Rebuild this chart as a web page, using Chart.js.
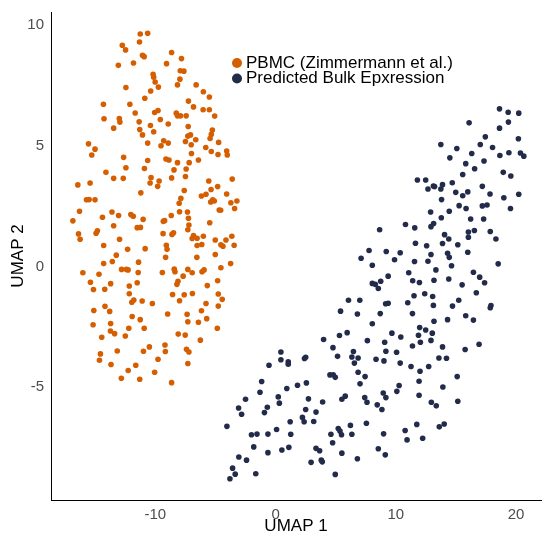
<!DOCTYPE html>
<html>
<head>
<meta charset="utf-8">
<script src="https://cdn.jsdelivr.net/npm/chart.js@4"></script>
<style>
  html, body { margin: 0; padding: 0; background: #fff; }
  #wrap { width: 545px; height: 534px; }
</style>
</head>
<body>
<div id="wrap"><canvas id="umapChart" width="545" height="534"></canvas></div>
<script>
const seriesNames = ['PBMC (Zimmermann et al.)', 'Predicted Bulk Epxression'];
const seriesColors = ['#D55E00', '#232B4A'];
const xTicks = [-10, 0, 10, 20];
const yTicks = [-5, 0, 5, 10];

// UMAP coordinates [UMAP 1, UMAP 2]
const pbmcPoints = [
  [-11.26,9.63],[-10.64,9.66],[-12.75,9.16],[-11.32,9.30],[-12.48,8.97],[-11.07,8.75],[-10.93,8.69],[-13.08,8.33],[-11.82,8.43],[-12.45,7.41],[-10.39,7.27],[-10.88,6.97],[-14.32,6.72],[-12.12,6.72],[-11.68,6.36],[-14.27,6.12],[-13.0,6.13],[-12.95,5.98],[-11.35,5.99],[-13.47,5.73],[-10.41,5.84],[-11.30,5.67],[-11.07,5.45],[-15.56,5.08],[-10.64,5.11],[-15.02,4.86],
  [-8.65,8.86],[-7.83,8.61],[-9.07,8.40],[-7.93,8.11],[-7.63,8.09],[-10.19,7.96],[-10.14,7.84],[-10.02,7.64],[-7.96,7.76],[-8.16,7.52],[-6.61,7.52],[-9.75,7.43],[-6.01,7.24],[-5.51,7.02],[-7.25,6.85],[-6.83,6.61],[-10.06,6.38],[-9.78,6.46],[-8.26,6.35],[-8.16,6.24],[-7.91,6.24],[-7.44,6.24],[-6.03,6.49],[-5.51,6.49],[-5.07,6.23],[-9.59,6.09],[-8.93,5.90],[-7.27,5.80],[-10.14,5.58],[-5.26,5.65],[-7.08,5.45],[-7.30,5.40],[-5.35,5.47],[-5.45,5.30],[-9.31,5.21],[-9.53,5.0],[-8.93,5.11],[-7.50,5.18],[-6.64,5.25],[-7.02,5.04],[-4.74,5.14],[-5.81,4.93],[-4.07,4.78],
  [-15.29,4.62],[-12.64,4.52],[-10.64,4.39],[-12.45,4.09],[-10.91,4.06],[-14.11,3.90],[-13.47,3.65],[-12.67,3.65],[-10.36,3.68],[-16.45,3.38],[-15.43,3.46],[-10.44,3.46],[-11.21,3.05],[-15.73,2.76],[-15.51,2.77],[-15.02,2.76],[-16.31,2.29],[-13.61,2.26],[-13.06,2.11],[-12.04,2.15],[-11.84,2.08],[-14.40,2.04],[-16.86,1.89],[-11.02,1.95],[-13.47,1.69],[-11.51,1.61],[-11.24,1.62],[-14.82,1.48],[-14.93,1.38],[-16.39,1.35],[-16.26,1.13],[-12.98,1.13],[-14.30,0.87],[-12.31,0.71],[-10.85,0.74],[-13.25,0.47],[-14.30,0.12],[-13.58,0.21],[-11.40,0.18],[-12.81,-0.12],[-12.40,-0.12],
  [-7.0,4.68],[-5.35,4.76],[-4.79,4.64],[-4.02,4.62],[-9.12,4.45],[-8.87,4.41],[-8.16,4.30],[-7.19,4.30],[-6.42,4.41],[-8.45,4.0],[-7.44,4.04],[-9.69,3.54],[-9.81,3.32],[-8.65,3.67],[-7.50,3.73],[-5.56,3.54],[-3.61,3.62],[-4.82,3.31],[-5.37,3.19],[-7.60,3.15],[-5.79,2.99],[-6.17,2.92],[-4.07,3.0],[-7.88,2.82],[-5.23,2.76],[-5.10,2.71],[-5.40,2.67],[-3.72,2.64],[-3.22,2.71],[-8.02,2.62],[-3.41,2.40],[-4.69,2.34],[-4.57,2.33],[-7.99,2.27],[-7.33,2.26],[-8.68,2.11],[-7.25,2.0],[-9.34,1.87],[-9.23,1.90],[-5.48,1.81],[-7.21,1.72],[-7.30,1.52],[-9.36,1.36],[-8.62,1.33],[-8.49,1.40],[-6.83,1.28],[-6.94,1.16],[-6.53,1.17],[-6.01,1.25],[-5.02,1.10],[-4.13,1.10],[-3.64,1.25],[-6.53,0.87],[-6.14,0.91],[-4.55,0.90],[-4.38,0.84],[-3.45,0.88],[-9.09,0.88],[-9.03,0.71],[-9.15,0.38],[-6.55,0.38],[-5.02,0.50],[-3.74,0.12],[-4.55,-0.05],[-8.43,-0.11],[-7.30,-0.12],
  [-16.03,-0.26],[-14.69,-0.32],[-12.27,-0.14],[-11.43,-0.25],[-15.40,-0.65],[-13.72,-0.71],[-11.51,-0.67],[-15.15,-0.95],[-14.21,-0.94],[-12.17,-0.81],[-12.17,-1.13],[-11.96,-1.48],[-11.79,-1.39],[-11.10,-1.43],[-15.12,-1.82],[-14.19,-1.65],[-13.80,-1.86],[-11.93,-2.07],[-11.26,-2.20],[-15.18,-2.41],[-13.72,-2.36],[-12.21,-2.56],[-10.93,-2.56],[-13.74,-2.67],[-13.39,-2.78],[-12.50,-2.88],[-14.46,-2.93],[-10.50,-3.33],[-10.99,-3.51],[-13.17,-3.50],[-14.57,-3.62],[-14.65,-3.88],[-13.69,-4.06],[-11.63,-4.09],[-12.26,-4.31],[-12.83,-4.63],[-11.30,-4.67],
  [-9.42,-0.25],[-8.37,-0.22],[-7.69,-0.40],[-6.94,-0.26],[-6.12,-0.22],[-5.95,-0.14],[-8.12,-0.61],[-8.21,-0.74],[-4.82,-0.59],[-5.68,-0.79],[-8.57,-1.16],[-7.60,-1.17],[-6.92,-1.12],[-4.77,-1.14],[-4.44,-1.36],[-7.99,-1.42],[-10.25,-1.53],[-5.79,-1.53],[-4.77,-1.64],[-6.17,-1.83],[-8.98,-1.97],[-7.36,-1.98],[-5.73,-2.16],[-7.30,-2.29],[-6.42,-2.31],[-4.85,-2.56],[-8.10,-2.80],[-7.52,-2.84],[-6.26,-3.05],[-9.20,-3.25],[-9.17,-3.52],[-7.41,-3.43],[-7.21,-3.54],[-9.78,-3.84],[-7.30,-4.02],[-10.06,-4.38],[-8.65,-4.81]
];

const bulkPoints = [
  [0.44,-3.54],[0.44,-3.86],[1.05,-3.95],[1.05,-4.05],[2.40,-3.81],[2.50,-3.76],[-0.55,-4.09],[-1.16,-4.76],[-1.30,-5.21],[0.93,-5.05],[1.82,-4.92],[2.56,-4.82],[0.22,-5.40],[0.31,-5.66],[-2.50,-5.50],[2.73,-5.48],[-3.08,-5.86],[-2.83,-6.12],[-0.69,-5.83],[-0.93,-6.05],[2.50,-5.92],[3.36,-6.03],[2.23,-6.25],[2.37,-6.43],[3.17,-6.42],[1.21,-6.43],[-4.05,-6.62],[-2.01,-6.97],[-1.55,-6.94],[-0.64,-6.94],[0.08,-6.75],[1.26,-6.95],[-1.82,-7.47],[-0.64,-7.71],[0.52,-7.60],[1.10,-7.49],[3.36,-7.53],[3.66,-7.63],[-3.06,-7.89],[-2.42,-8.02],[2.95,-8.11],[-3.58,-8.35],[-3.36,-8.60],[-3.80,-8.79],[-1.65,-8.58],
  [6.06,-1.40],[7.0,-1.40],[9.15,-1.54],[9.36,-1.52],[10.99,-1.50],[5.40,-1.85],[6.80,-1.97],[8.70,-1.95],[11.38,-1.95],[8.04,-2.37],[5.95,-2.74],[5.31,-2.86],[9.67,-2.76],[10.41,-2.92],[3.99,-3.02],[7.63,-3.07],[9.07,-3.14],[11.38,-3.29],[4.77,-3.36],[6.47,-3.52],[9.17,-3.51],[10.06,-3.55],[5.15,-3.72],[6.34,-3.75],[6.86,-3.79],[6.55,-4.0],[8.35,-3.84],[9.01,-3.91],[10.36,-4.0],[11.26,-4.14],[6.86,-4.38],[7.44,-4.56],[4.52,-4.49],[4.79,-4.48],[4.96,-4.59],[7.02,-4.86],[10.27,-4.93],[10.08,-5.17],[8.95,-5.24],[9.17,-5.43],[5.79,-5.37],[5.51,-5.50],[7.41,-5.43],[7.60,-5.62],[3.91,-5.61],[8.45,-5.73],[8.84,-5.92],[6.22,-6.58],[7.55,-6.49],[5.21,-6.71],[5.35,-6.81],[5.48,-6.97],[4.60,-6.95],[6.34,-6.95],[8.98,-6.93],[10.77,-6.79],[10.93,-7.18],[11.74,-6.54],[4.74,-7.30],[3.80,-8.02],[3.88,-8.09],[5.51,-7.73],[8.54,-7.55],[9.12,-7.80],[6.80,-7.96],[4.96,-8.61],
  [15.23,-1.40],[13.12,-1.61],[14.71,-1.64],[17.91,-1.62],[17.85,-1.71],[15.81,-2.04],[16.45,-2.22],[14.30,-2.20],[13.17,-2.27],[11.98,-2.53],[12.48,-2.63],[13.03,-2.76],[11.88,-2.85],[12.92,-3.06],[12.04,-3.14],[13.88,-3.33],[16.92,-3.22],[15.76,-3.44],[13.58,-3.79],[14.21,-3.80],[12.73,-4.14],[12.01,-4.34],[15.10,-4.56],[11.93,-4.75],[13.91,-4.99],[11.93,-5.33],[15.15,-5.58],[12.95,-5.62],[13.36,-5.77],[13.61,-6.64],[14.02,-6.52],[12.23,-7.11],
  [11.79,3.58],[10.80,1.74],[11.57,1.60],[8.65,1.52],[11.63,0.96],[7.77,0.66],[9.20,0.62],[10.36,0.57],[7.11,0.34],[9.89,0.28],[11.55,0.21],[8.04,0.05],[11.07,-0.26],[9.36,-0.40],[8.04,-0.70],[8.29,-0.74],[8.74,-0.61],[8.54,-0.91],[11.40,-0.59],[11.51,-1.21],
  [18.62,6.53],[19.34,6.39],[20.22,6.35],[16.09,5.95],[19.36,5.98],[18.62,5.73],[17.44,5.37],[20.19,5.29],[13.74,5.05],[15.07,4.89],[17.02,5.05],[18.04,4.93],[16.31,4.68],[18.65,4.60],[19.40,4.71],[20.36,4.70],[20.64,4.57],[14.49,4.50],[17.33,4.37],[15.81,4.26],[16.55,4.05],[18.93,3.90],[19.56,3.75],[15.56,3.81],[12.48,3.58],[12.67,3.21],[13.12,3.33],[13.22,3.31],[13.74,3.21],[13.88,3.39],[14.69,3.47],[14.98,3.07],[15.56,2.93],[15.98,3.09],[17.19,3.32],[17.83,3.0],[18.98,2.85],[20.22,2.99],[13.80,2.77],
  [15.26,2.52],[15.84,2.40],[17.19,2.51],[17.58,2.55],[19.53,2.40],[12.89,2.26],[14.44,2.29],[13.78,2.02],[16.22,1.97],[17.30,1.97],[13.14,1.78],[12.92,1.65],[16.03,1.43],[16.53,1.49],[17.85,1.45],[14.05,1.32],[14.40,1.14],[16.03,1.21],[18.32,1.14],[12.56,0.86],[13.88,0.95],[15.15,0.90],[14.30,0.55],[14.44,0.38],[15.98,0.59],[12.92,0.50],[12.67,0.22],[14.63,0.03],[18.51,0.11],[13.33,-0.14],[16.45,-0.24],[16.97,-0.44],[17.38,-0.67],[11.96,-0.66],[13.17,-0.57],[14.40,-0.52],[15.51,-0.76],[12.40,-1.13],[13.06,-1.24],[16.69,-1.09]
];

const fontFamily = '"Liberation Sans", Arial, Helvetica, sans-serif';

// legend drawn inside the panel, ggplot style
const insideLegend = {
  id: 'insideLegend',
  afterDraw(chart) {
    const ctx = chart.ctx;
    const area = chart.chartArea;
    const x0 = area.left + 186;
    const y0 = area.top + 51;
    ctx.save();
    ctx.font = '17px ' + fontFamily;
    ctx.textBaseline = 'middle';
    seriesNames.forEach((name, i) => {
      const y = y0 + i * 15.5;
      ctx.fillStyle = seriesColors[i];
      ctx.beginPath();
      ctx.arc(x0, y, 5, 0, Math.PI * 2);
      ctx.fill();
      ctx.fillStyle = '#000';
      ctx.fillText(name, x0 + 9, y);
    });
    ctx.restore();
  }
};

const toXY = arr => arr.map(p => ({ x: p[0], y: p[1] }));

const ctx = document.getElementById('umapChart').getContext('2d');
const umapChart = new Chart(ctx, {
  type: 'scatter',
  data: {
    datasets: [
      {
        label: seriesNames[0],
        data: toXY(pbmcPoints),
        backgroundColor: seriesColors[0],
        borderWidth: 0,
        pointRadius: 2.8
      },
      {
        label: seriesNames[1],
        data: toXY(bulkPoints),
        backgroundColor: seriesColors[1],
        borderWidth: 0,
        pointRadius: 2.8
      }
    ]
  },
  options: {
    responsive: false,
    animation: false,
    layout: { padding: { top: 11, right: 0, left: 0, bottom: 0 } },
    plugins: {
      legend: { display: false },
      tooltip: { enabled: false }
    },
    scales: {
      x: {
        type: 'linear',
        min: -18.68,
        max: 22.07,
        afterBuildTicks: s => { s.ticks = xTicks.map(v => ({ value: v })); },
        afterFit: s => { s.height = 34; },
        grid: { display: false, drawTicks: true, tickLength: 4, tickColor: '#333' },
        border: { display: true, color: '#000', width: 1 },
        ticks: { color: '#4D4D4D', padding: 2, font: { size: 15, family: fontFamily } },
        title: {
          display: true,
          text: 'UMAP 1',
          color: '#000',
          font: { size: 17, family: fontFamily },
          padding: { top: 0, bottom: -3 }
        }
      },
      y: {
        type: 'linear',
        min: -9.67,
        max: 10.54,
        afterBuildTicks: s => { s.ticks = yTicks.map(v => ({ value: v })); },
        afterFit: s => { s.width = 51; },
        grid: { display: false, drawTicks: true, tickLength: 4, tickColor: '#333' },
        border: { display: true, color: '#000', width: 1 },
        ticks: { color: '#4D4D4D', padding: 3, font: { size: 15, family: fontFamily } },
        title: {
          display: true,
          text: 'UMAP 2',
          color: '#000',
          font: { size: 17, family: fontFamily },
          padding: { top: 8, bottom: 0 }
        }
      }
    }
  },
  plugins: [insideLegend]
});
</script>
</body>
</html>
